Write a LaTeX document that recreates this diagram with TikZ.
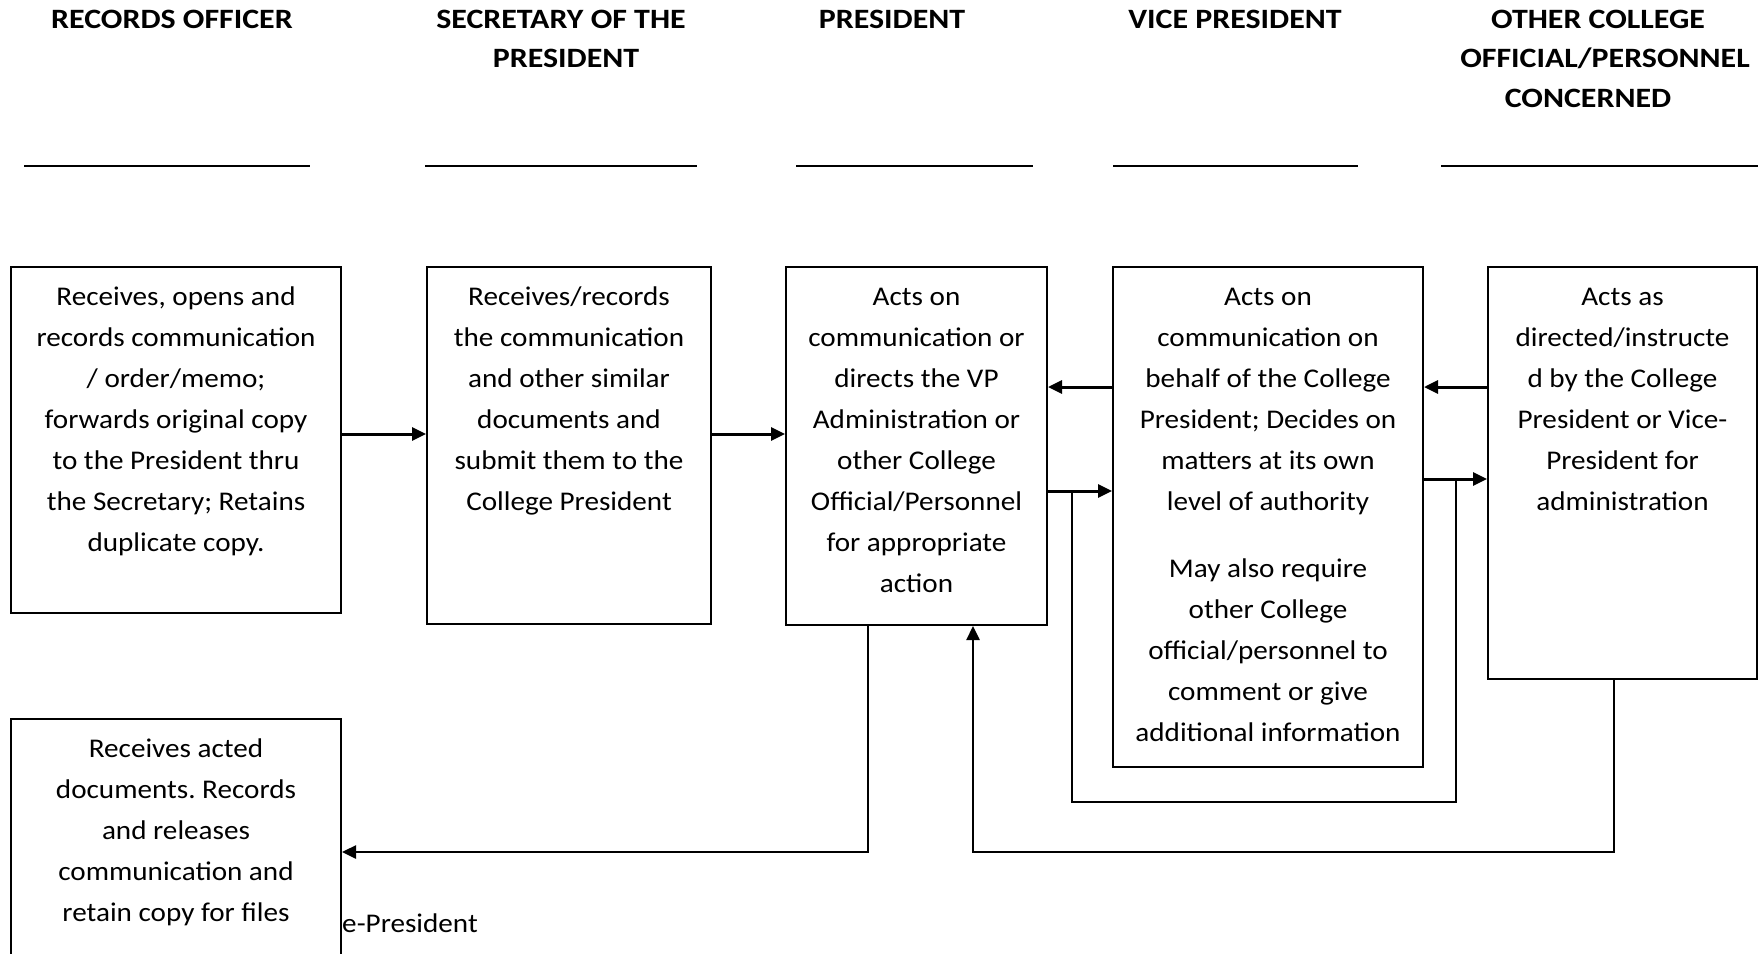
\documentclass[tikz,border=0pt]{standalone}
\usepackage{fontspec}
\setmainfont{Carlito}[FakeStretch=1.08]
\newfontfamily\headfont{Carlito}[FakeStretch=1.14]
\usetikzlibrary{arrows.meta,calc}
\frenchspacing
\begin{document}
\begin{tikzpicture}[x=1pt,y=-1pt,
  box/.style={draw,line width=2pt,fill=white,inner sep=0pt,anchor=north west},
  body/.style={font=\fontsize{27}{41}\selectfont,align=center,inner sep=0pt,anchor=north},
  head/.style={font=\headfont\fontsize{28}{39}\selectfont\bfseries,inner sep=0pt,anchor=base},
  rule/.style={line width=2.5pt},
  flow/.style={line width=3pt,-{Triangle[length=14pt,width=13pt]}},
  link/.style={line width=2.2pt},
  back/.style={line width=2.5pt,-{Triangle[length=14pt,width=13pt]}}]

\useasboundingbox (0,0) rectangle (1758,953);
\clip (0,0) rectangle (1758,953);
\fill[white] (0,0) rectangle (1758,953);

% column headings
\node[head] (h1)  at (172,28)  {RECORDS OFFICER};
\node[head] (h2a) at (561,28)  {SECRETARY OF THE};
\node[head] (h2b) at (566,67)  {PRESIDENT};
\node[head] (h3)  at (892,28)  {PRESIDENT};
\node[head] (h4)  at (1235,28) {VICE PRESIDENT};
\node[head] (h5a) at (1598,28) {OTHER COLLEGE};
\node[head] (h5b) at (1605,67) {OFFICIAL/PERSONNEL};
\node[head] (h5c) at (1588,107) {CONCERNED};

% signature rules under the headings
\draw[rule] (24,166) -- (310,166);
\draw[rule] (425,166) -- (697,166);
\draw[rule] (796,166) -- (1033,166);
\draw[rule] (1113,166) -- (1358,166);
\draw[rule] (1441,166) -- (1758,166);

% text left over on the page, partly covered by the last box
\node[body,anchor=base east] (note) at (478,932) {Vice-President};

% process boxes
\node[box,minimum width=330pt,minimum height=346pt] (rec)  at (10,266)   {};
\node[box,minimum width=284pt,minimum height=357pt] (sec)  at (426,266)  {};
\node[box,minimum width=261pt,minimum height=358pt] (pres) at (785,266)  {};
\node[box,minimum width=310pt,minimum height=500pt] (vp)   at (1112,266) {};
\node[box,minimum width=269pt,minimum height=412pt] (oth)  at (1487,266) {};
\node[box,minimum width=330pt,minimum height=300pt] (rel)  at (10,718)   {};

\node[body] (trec) at ($(rec.north)+(0,10.3)$) {\strut Receives, opens and\\records communication\\/ order/memo;\\forwards original copy\\to the President thru\\the Secretary; Retains\\duplicate copy.};
\node[body] (tsec) at ($(sec.north)+(0,10.3)$) {\strut Receives/records\\the communication\\and other similar\\documents and\\submit them to the\\College President};
\node[body] (tpres) at ($(pres.north)+(0,10.3)$) {\strut Acts on\\communication or\\directs the VP\\Administration or\\other College\\Official/Personnel\\for appropriate\\action};
\node[body] (tvp) at ($(vp.north)+(0,10.3)$) {\strut Acts on\\communication on\\behalf of the College\\President; Decides on\\matters at its own\\level of authority\\[26pt]May also require\\other College\\official/personnel to\\comment or give\\additional information};
\node[body] (toth) at ($(oth.north)+(0,10.3)$) {\strut Acts as\\directed/instructe\\d by the College\\President or Vice-\\President for\\administration};
\node[body] (trel) at ($(rel.north)+(0,10.3)$) {\strut Receives acted\\documents. Records\\and releases\\communication and\\retain copy for files};

% forward flow
\draw[flow] (rec.east |- 0,434) -- (sec.west |- 0,434);
\draw[flow] (sec.east |- 0,434) -- (pres.west |- 0,434);
\draw[flow] (vp.west |- 0,387) -- (pres.east |- 0,387);
\draw[flow] (pres.east |- 0,491) -- (vp.west |- 0,491);
\draw[flow] (oth.west |- 0,387) -- (vp.east |- 0,387);
\draw[flow] (vp.east |- 0,479) -- (oth.west |- 0,479);

% loop joining the two forward arrows under the VP box
\coordinate (lpa) at (1072,491);
\coordinate (lpb) at (1456,479);
\draw[link] (lpa) -- (1072,802) -- (1456,802) -- (lpb);

% return paths
\draw[back] (pres.south -| 868,0) -- (868,852) -- (rel.east |- 0,852);
\draw[back] (oth.south -| 1614,0) -- (1614,852) -- (973,852) -- (pres.south -| 973,0);
\end{tikzpicture}
\end{document}
